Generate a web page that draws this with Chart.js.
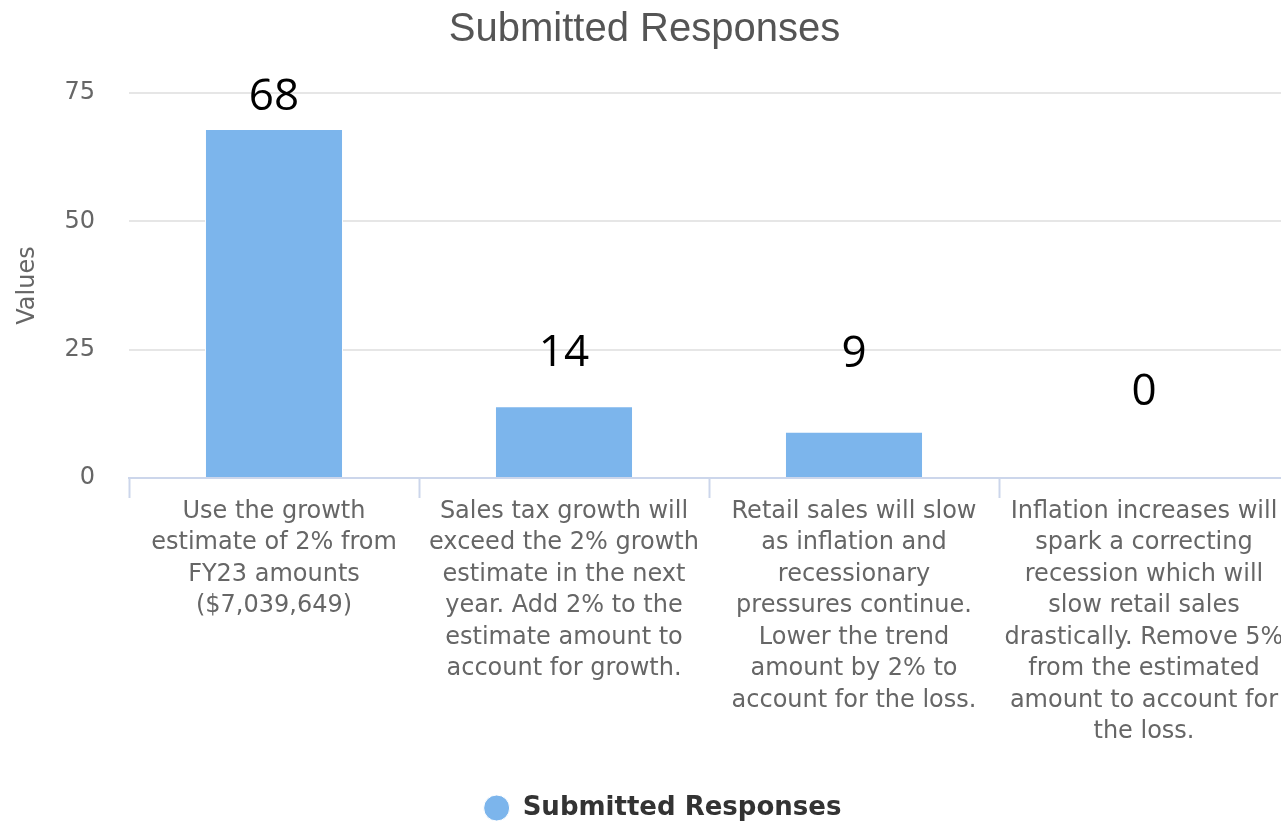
<!DOCTYPE html>
<html>
<head>
<meta charset="utf-8">
<title>Submitted Responses</title>
<script src="https://cdn.jsdelivr.net/npm/chart.js@4/dist/chart.umd.min.js"></script>
<style>
  html, body { margin: 0; padding: 0; background: #ffffff; overflow: hidden; }
  #wrap { width: 1289px; height: 822px; }
</style>
</head>
<body>
<div id="wrap"><canvas id="chart" width="1289" height="822"></canvas></div>
<script>
// Answer options (each label split into display lines)
const categories = [
  ['Use the growth', 'estimate of 2% from', 'FY23 amounts', '($7,039,649)'],
  ['Sales tax growth will', 'exceed the 2% growth', 'estimate in the next', 'year. Add 2% to the', 'estimate amount to', 'account for growth.'],
  ['Retail sales will slow', 'as inflation and', 'recessionary', 'pressures continue.', 'Lower the trend', 'amount by 2% to', 'account for the loss.'],
  ['Inflation increases will', 'spark a correcting', 'recession which will', 'slow retail sales', 'drastically. Remove 5%', 'from the estimated', 'amount to account for', 'the loss.']
];

// Number of submitted responses per option
const responses = [68, 14, 9, 0];

// Value axis ticks
const yTicks = [0, 25, 50, 75];

const seriesName = 'Submitted Responses';
const axisTitle = 'Values';

// How far above each bar top its value label sits (px)
const labelLift = [31, 53, 77, 86];

// Value labels drawn above the bars
const valueLabels = {
  id: 'valueLabels',
  afterDatasetsDraw(chart) {
    const ctx = chart.ctx;
    const meta = chart.getDatasetMeta(0);
    ctx.save();
    ctx.font = '44px "Open Sans", sans-serif';
    ctx.fillStyle = '#000000';
    ctx.textAlign = 'center';
    ctx.textBaseline = 'middle';
    meta.data.forEach((bar, i) => {
      const v = chart.data.datasets[0].data[i];
      ctx.fillText(String(v), bar.x, bar.y - labelLift[i]);
    });
    ctx.restore();
  }
};

// Nudge the legend box a little right of centre and closer to the bottom edge
const legendNudge = {
  id: 'legendNudge',
  afterLayout(chart) {
    const lg = chart.legend;
    if (lg) {
      lg.left += 18; lg.right += 18;
      lg.top += 9; lg.bottom += 9;
    }
  }
};

new Chart(document.getElementById('chart'), {
  type: 'bar',
  data: {
    labels: categories,
    datasets: [{
      label: seriesName,
      data: responses,
      backgroundColor: '#7cb5ec',
      borderColor: '#ffffff',
      borderWidth: 1,
      categoryPercentage: 1,
      barPercentage: 0.476
    }]
  },
  options: {
    responsive: false,
    animation: false,
    layout: { padding: 0 },
    plugins: {
      title: {
        display: true,
        text: seriesName,
        color: '#555555',
        font: { family: '"Liberation Sans", Arial, sans-serif', size: 40, weight: 'normal' },
        padding: { top: 6, bottom: 39 }
      },
      legend: {
        display: true,
        position: 'bottom',
        labels: {
          usePointStyle: true,
          pointStyle: 'circle',
          boxWidth: 26,
          boxHeight: 18.4,
          pointStyleWidth: 26,
          padding: 1,
          color: '#333333',
          font: { family: '"DejaVu Sans", sans-serif', size: 26, weight: 'bold' }
        }
      },
      tooltip: { enabled: false }
    },
    scales: {
      x: {
        offset: true,
        grid: {
          offset: true,
          drawOnChartArea: false,
          drawTicks: true,
          tickLength: 20,
          tickColor: '#ccd6eb',
          tickWidth: 2
        },
        border: { display: true, color: '#ccd6eb', width: 2 },
        ticks: {
          autoSkip: false,
          maxRotation: 0,
          minRotation: 0,
          padding: -2,
          color: '#666666',
          font: { family: '"DejaVu Sans", sans-serif', size: 24, lineHeight: 1.31 }
        },
        afterFit(scale) { scale.height = 307; }
      },
      y: {
        min: 0,
        max: 75,
        afterBuildTicks(scale) { scale.ticks = yTicks.map(v => ({ value: v })); },
        grid: { color: '#e6e6e6', lineWidth: 2, drawTicks: false },
        border: { display: false },
        ticks: {
          padding: 34,
          color: '#666666',
          font: { family: '"DejaVu Sans", sans-serif', size: 24 }
        },
        title: {
          display: true,
          text: axisTitle,
          color: '#666666',
          font: { family: '"DejaVu Sans", sans-serif', size: 24 },
          padding: { top: 13, bottom: 0 }
        },
        afterFit(scale) { scale.width = 129; }
      }
    }
  },
  plugins: [valueLabels, legendNudge]
});
</script>
</body>
</html>
